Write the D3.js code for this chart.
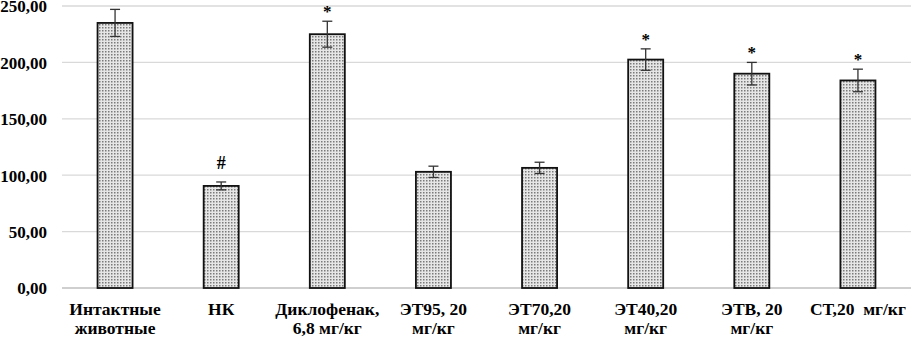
<!DOCTYPE html>
<html lang="ru">
<head>
<meta charset="UTF-8">
<title>Столбчатая диаграмма</title>
<script src="https://d3js.org/d3.v7.min.js"></script>
<style>
  body { margin: 0; background: #fff; }
</style>
</head>
<body>
<svg id="chart" width="911" height="338"></svg>
<script>
// данные
var categories = ["Интактные животные", "НК", "Диклофенак, 6,8 мг/кг", "ЭТ95, 20 мг/кг",
                  "ЭТ70,20 мг/кг", "ЭТ40,20 мг/кг", "ЭТВ, 20 мг/кг", "СТ,20  мг/кг"];
var labelLines = [["Интактные", "животные"], ["НК"], ["Диклофенак,", "6,8 мг/кг"], ["ЭТ95, 20", "мг/кг"],
                  ["ЭТ70,20", "мг/кг"], ["ЭТ40,20", "мг/кг"], ["ЭТВ, 20", "мг/кг"], ["СТ,20  мг/кг"]];
var values = [235, 90.5, 225, 103, 106.5, 202.5, 190, 184];
var errors = [12, 3.5, 11.5, 5, 5, 9.5, 10, 10];
var marks  = ["", "#", "*", "", "", "*", "*", "*"];
var yTicks = [0, 50, 100, 150, 200, 250];

var FONT = "'Liberation Serif', 'Times New Roman', serif";
function serif(sel) {
  return sel.style("font-family", FONT).style("font-weight", "bold").style("fill", "#000").style("white-space", "pre");
}

var svg = d3.select("#chart");
var plotLeft = 62, plotRight = 911, plotTop = 6, plotBottom = 288;

var x = d3.scaleBand().domain(categories).range([plotLeft, plotRight]).paddingInner(0.67).paddingOuter(0.335);
var y = d3.scaleLinear().domain([0, 250]).range([plotBottom, plotTop]);

// узор заливки (точки)
var defs = svg.append("defs");
var pat = defs.append("pattern").attr("id", "dots").attr("patternUnits", "userSpaceOnUse")
  .attr("width", 3).attr("height", 3);
pat.append("rect").attr("width", 3).attr("height", 3).attr("fill", "#e6e6e6");
pat.append("rect").attr("x", 0).attr("y", 0).attr("width", 1.5).attr("height", 1.5).attr("fill", "#7a7a7a");

// сетка
svg.append("g").selectAll("line").data(yTicks).enter().append("line")
  .attr("x1", plotLeft).attr("x2", plotRight)
  .attr("y1", function(d) { return y(d); }).attr("y2", function(d) { return y(d); })
  .attr("stroke", function(d) { return d === 0 ? "#bfbfbf" : "#d9d9d9"; })
  .attr("stroke-width", 1.3);

// ось Y
var yAxis = d3.axisLeft(y).tickValues(yTicks).tickSize(0).tickPadding(0)
  .tickFormat(function(d) { return d3.format(".2f")(d).replace(".", ","); });
var gy = svg.append("g").attr("transform", "translate(47,0)").call(yAxis);
gy.select(".domain").remove();
serif(gy.selectAll("text")).attr("dy", "0.35em").style("font-size", "17px");

// столбцы
svg.append("g").selectAll("rect").data(values).enter().append("rect")
  .attr("x", function(d, i) { return x(categories[i]); })
  .attr("y", function(d) { return y(d); })
  .attr("width", x.bandwidth())
  .attr("height", function(d) { return y(0) - y(d); })
  .attr("fill", "url(#dots)")
  .attr("stroke", "#111").attr("stroke-width", 1.8);

// планки погрешностей
var eb = svg.append("g").attr("stroke", "#333").attr("stroke-width", 1.3);
values.forEach(function(v, i) {
  var cx = x(categories[i]) + x.bandwidth() / 2;
  eb.append("line").attr("x1", cx).attr("x2", cx).attr("y1", y(v + errors[i])).attr("y2", y(v - errors[i]));
  eb.append("line").attr("x1", cx - 5).attr("x2", cx + 5).attr("y1", y(v + errors[i])).attr("y2", y(v + errors[i]));
  eb.append("line").attr("x1", cx - 5).attr("x2", cx + 5).attr("y1", y(v - errors[i])).attr("y2", y(v - errors[i]));
});

// значки достоверности
serif(svg.append("g").selectAll("text").data(marks).enter().append("text"))
  .attr("x", function(d, i) { return x(categories[i]) + x.bandwidth() / 2; })
  .attr("y", function(d, i) { return y(values[i] + errors[i]) - (d === "#" ? 13 : 4); })
  .attr("text-anchor", "middle")
  .style("font-size", function(d) { return d === "#" ? "18px" : "17px"; })
  .text(function(d) { return d; });

// подписи категорий
var xl = serif(svg.append("g").selectAll("text").data(labelLines).enter().append("text"))
  .attr("text-anchor", "middle").style("font-size", "17.5px")
  .attr("x", function(d, i) { return x(categories[i]) + x.bandwidth() / 2; })
  .attr("y", 315);
xl.selectAll("tspan").data(function(d) { return d; }).enter().append("tspan")
  .attr("x", function() { return this.parentNode.getAttribute("x"); })
  .attr("dy", function(d, j) { return j === 0 ? 0 : 19; })
  .text(function(d) { return d; });
</script>
</body>
</html>
